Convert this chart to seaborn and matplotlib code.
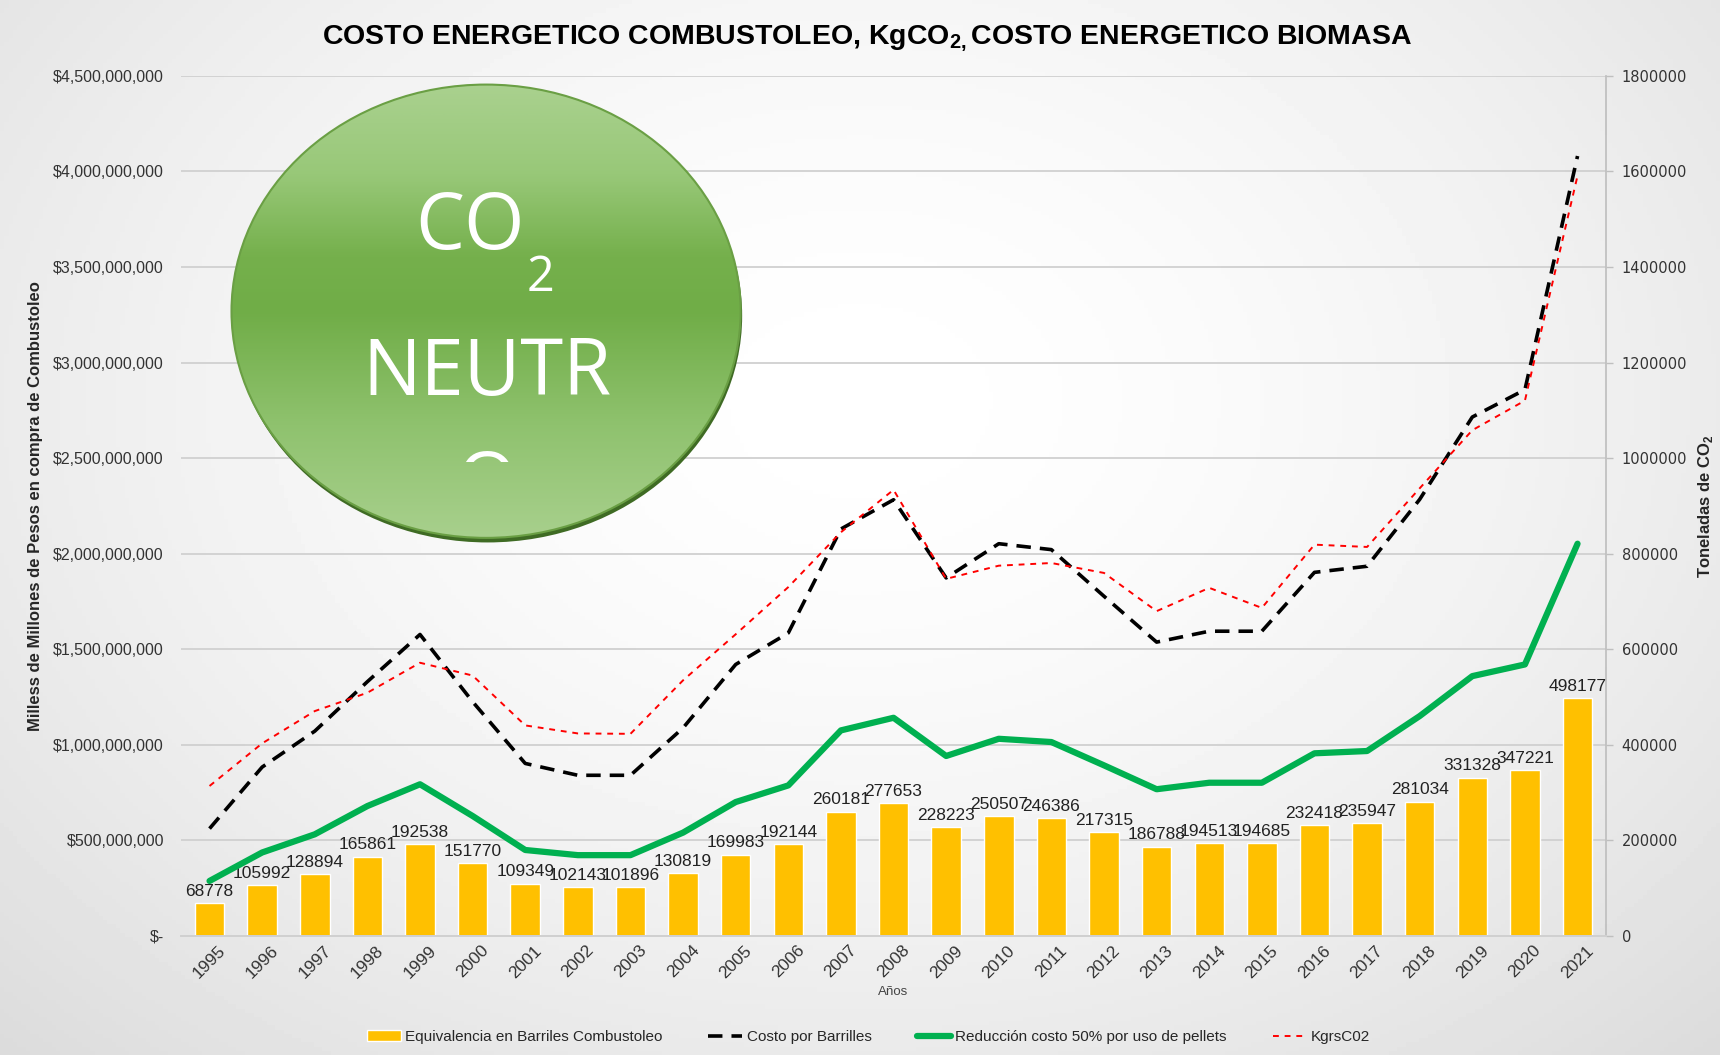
import numpy as np
import pandas as pd
import matplotlib
matplotlib.use('Agg')
import matplotlib.pyplot as plt
import seaborn as sns
from matplotlib.patches import Ellipse, Patch
from matplotlib.lines import Line2D
from matplotlib.colors import LinearSegmentedColormap
from matplotlib.transforms import Bbox

# Data
years = [str(y) for y in range(1995, 2022)]
barriles = [68778, 105992, 128894, 165861, 192538, 151770, 109349, 102143, 101896,
            130819, 169983, 192144, 260181, 277653, 228223, 250507, 246386, 217315,
            186788, 194513, 194685, 232418, 235947, 281034, 331328, 347221, 498177]
costo_barriles = [0.561, 0.883, 1.071, 1.330, 1.577, 1.225, 0.902, 0.840, 0.840,
                  1.088, 1.420, 1.585, 2.129, 2.282, 1.873, 2.052, 2.021, 1.777,
                  1.537, 1.594, 1.594, 1.902, 1.934, 2.284, 2.715, 2.858, 4.081]
reduccion = [0.287, 0.436, 0.531, 0.679, 0.793, 0.627, 0.449, 0.422, 0.422,
             0.540, 0.700, 0.787, 1.075, 1.141, 0.941, 1.031, 1.014, 0.892,
             0.767, 0.801, 0.801, 0.955, 0.967, 1.150, 1.359, 1.420, 2.052]
kgrs_co2 = [0.784, 1.007, 1.176, 1.272, 1.429, 1.362, 1.101, 1.059, 1.057,
            1.337, 1.578, 1.825, 2.112, 2.334, 1.868, 1.937, 1.951, 1.899,
            1.699, 1.821, 1.716, 2.047, 2.035, 2.342, 2.646, 2.801, 3.978]

df = pd.DataFrame({
    'year': years,
    'pos': np.arange(len(years)),
    'barriles': barriles,
    'costo': np.array(costo_barriles) * 1e9,
    'reduccion': np.array(reduccion) * 1e9,
    'kgrs': np.array(kgrs_co2) * 1e9,
})

sns.set_theme(style="white")
base = ['Liberation Sans', 'DejaVu Sans']
plt.rcParams['font.family'] = base
plt.rcParams['mathtext.fontset'] = 'custom'
plt.rcParams['mathtext.rm'] = 'Liberation Sans'
plt.rcParams['mathtext.bf'] = 'Liberation Sans:bold'

fig = plt.figure(figsize=(17.2, 10.55), dpi=100)

# background gradient
bg = fig.add_axes([0, 0, 1, 1], zorder=-10)
gx, gy = np.meshgrid(np.linspace(0, 1, 400), np.linspace(0, 1, 250))
d = np.sqrt(((gx - 0.5) / 0.75) ** 2 + ((gy - 0.62) / 0.9) ** 2)
shade = 1 - 0.15 * np.clip(d, 0, 1) ** 1.6
bg.imshow(shade, cmap='gray', vmin=0, vmax=1, extent=[0, 1, 0, 1], aspect='auto', origin='lower')
bg.axis('off')

ax = fig.add_axes([0.105, 0.113, 0.829, 0.815])
ax2 = ax.twinx()

# bars on the right axis (toneladas)
sns.barplot(data=df, x='year', y='barriles', ax=ax2, color='#FFC000', width=0.56,
            saturation=1, zorder=2)
ax2.bar_label(ax2.containers[0], labels=[str(v) for v in barriles], padding=3,
              fontsize=12.5, color='#222222')
ax2.set_ylim(0, 1800000)
ax2.set_yticks(np.arange(0, 1800001, 200000))
ax2.set_yticklabels([str(v) for v in range(0, 1800001, 200000)], fontsize=10.5,
                    family='DejaVu Sans', color='#333333')
ax2.grid(axis='y', color='#d0d0d0', linewidth=1.3)
ax2.set_axisbelow(True)
ax2.set_ylabel('Toneladas de CO$_\\mathbf{2}$', fontsize=12, fontweight='bold', labelpad=6)
ax2.set_xlabel('')

# lines on the left axis (pesos)
sns.lineplot(data=df, x='pos', y='costo', ax=ax, color='black', linewidth=2.6,
             linestyle=(0, (4, 2.5)), label='Costo por Barrilles')
sns.lineplot(data=df, x='pos', y='reduccion', ax=ax, color='#00B050', linewidth=4.5,
             label='Reducción costo 50% por uso de pellets')
sns.lineplot(data=df, x='pos', y='kgrs', ax=ax, color='#FF0000', linewidth=1.4,
             linestyle=(0, (3, 3)), label='KgrsC02')
ax.get_legend().remove()

ax.set_zorder(ax2.get_zorder() + 1)
ax.patch.set_visible(False)
ax2.patch.set_visible(False)

ax.set_ylim(0, 4.5e9)
yt = np.arange(0, 4.5e9 + 1, 5e8)
ax.set_yticks(yt)
ax.set_yticklabels(['$-' if v == 0 else f'${v:,.0f}' for v in yt], fontsize=11.5,
                   color='#333333')
ax.set_ylabel('Milless de Millones de Pesos en compra de Combustoleo', fontsize=12,
              fontweight='bold', labelpad=7)
ax.set_xticks(np.arange(len(years)))
ax.set_xticklabels(years, rotation=45, fontsize=12.5, color='#333333')
ax.set_xlim(-0.55, len(years) - 0.45)
ax.set_xlabel('Años', fontsize=9.5, color='#444444', labelpad=4)
ax.tick_params(axis='y', length=0, pad=12)
ax.tick_params(axis='x', length=0, pad=5)
ax2.tick_params(axis='y', length=5, width=1, color='#bfbfbf', direction='out', pad=6)

for a in (ax, ax2):
    for s in ('top', 'left'):
        a.spines[s].set_visible(False)
ax.spines['right'].set_visible(False)
ax2.spines['right'].set_color('#bfbfbf')
ax2.spines['bottom'].set_color('#d0d0d0')
ax.spines['bottom'].set_color('#d0d0d0')

# title
fig.text(0.504, 0.963, 'COSTO ENERGETICO COMBUSTOLEO, KgCO$_\\mathbf{2,}$COSTO ENERGETICO BIOMASA',
         ha='center', va='center', fontsize=20.5, fontweight='bold', color='black')

# legend
handles = [
    Patch(facecolor='#FFC000', label='Equivalencia en Barriles Combustoleo'),
    Line2D([], [], color='black', lw=2.6, ls=(0, (4, 2.5)), label='Costo por Barrilles'),
    Line2D([], [], color='#00B050', lw=4.5, label='Reducción costo 50% por uso de pellets'),
    Line2D([], [], color='#FF0000', lw=1.4, ls=(0, (3, 3)), label='KgrsC02'),
]
fig.legend(handles=handles, loc='center', bbox_to_anchor=(0.505, 0.017), ncol=4,
           frameon=False, fontsize=11, handlelength=2.2, columnspacing=3.0,
           handletextpad=0.3)

# CO2 NEUTRO badge
cx, cy, w, h = 0.2826, 0.705, 0.296, 0.434
bax = fig.add_axes([cx - w / 2, cy - h / 2, w, h], zorder=5)
bax.set_xlim(0, 1)
bax.set_ylim(0, 1)
bax.axis('off')
shadow = Ellipse((0.503, 0.49), 1.0, 0.99, transform=bax.transAxes,
                 facecolor='#3f6b24', edgecolor='none', clip_on=False, zorder=1)
bax.add_patch(shadow)
cmap = LinearSegmentedColormap.from_list(
    'g', [(0.0, '#a8d08d'), (0.25, '#8fc26e'), (0.5, '#70ad47'),
          (0.62, '#75b04c'), (0.8, '#98c878'), (1.0, '#aad18f')])
grad = np.linspace(0, 1, 300).reshape(-1, 1)
img = bax.imshow(grad, cmap=cmap, extent=[0, 1, 0, 1], aspect='auto', origin='lower',
                 zorder=2)
edge = Ellipse((0.5, 0.5), 1.0, 0.99, transform=bax.transAxes, facecolor='none',
               edgecolor='#6a9f44', lw=1.5, clip_on=False, zorder=3)
bax.add_patch(edge)
img.set_clip_path(edge)

badge_font = ['Open Sans', 'DejaVu Sans']
fig.text(0.2733, 0.764, 'CO', ha='center', va='baseline', fontsize=56, color='white',
         family=badge_font, zorder=10)
fig.text(0.3145, 0.7237, '2', ha='center', va='baseline', fontsize=35, color='white',
         family=badge_font, zorder=10)
fig.text(0.283, 0.6256, 'NEUTR', ha='center', va='baseline', fontsize=56, color='white',
         family=badge_font, zorder=10)
o_txt = fig.text(0.283, 0.5185, 'O', ha='center', va='baseline', fontsize=56, color='white',
                 family=badge_font, zorder=10)
o_txt.set_clip_box(Bbox.from_extents(0, 1055 - 462, 1720, 1055))
o_txt.set_clip_on(True)

fig.savefig('out.png', dpi=100)
